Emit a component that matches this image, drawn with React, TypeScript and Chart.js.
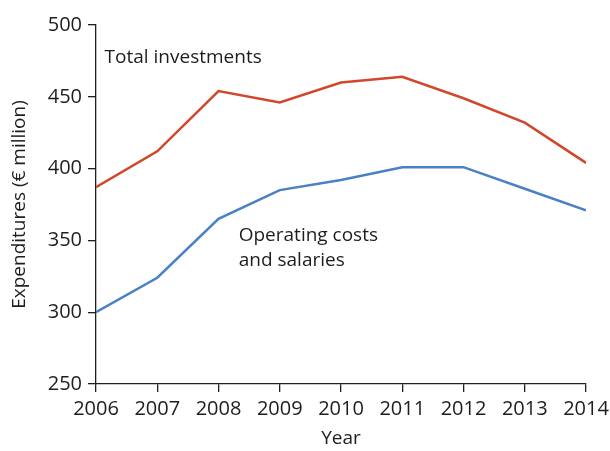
import React, { useEffect, useRef } from "react";
import { Chart, registerables } from "chart.js";
Chart.register(...registerables);

const years = [2006, 2007, 2008, 2009, 2010, 2011, 2012, 2013, 2014];
const totalInvestments = [387, 412, 454, 446, 460, 464, 449, 432, 404];
const operatingCosts = [300, 324, 365, 385, 392, 401, 401, 386, 371];
const yTicks = [250, 300, 350, 400, 450, 500];

const FONT = "'Open Sans', 'Noto Sans', sans-serif";
const TXT = "#1f1c1d";

const labelsPlugin = {
  id: "labels",
  afterDatasetsDraw(chart: any) {
    const { ctx, scales } = chart;
    const x = scales.x, y = scales.y;
    ctx.save();
    ctx.fillStyle = TXT;
    ctx.font = `19px ${FONT}`;
    ctx.textAlign = "left";
    ctx.textBaseline = "middle";
    ctx.fillText("Total investments", x.getPixelForValue(2006.14), y.getPixelForValue(477));
    ctx.fillText("Operating costs", x.getPixelForValue(2008.33), y.getPixelForValue(353.5));
    ctx.fillText("and salaries", x.getPixelForValue(2008.33), y.getPixelForValue(336));
    ctx.restore();
  },
};

export default function App() {
  const ref = useRef<HTMLCanvasElement>(null);
  useEffect(() => {
    document.body.style.margin = "0";
    const chart = new Chart(ref.current!, {
      type: "line",
      data: {
        datasets: [
          {
            data: years.map((yr, i) => ({ x: yr, y: totalInvestments[i] })),
            borderColor: "#d2472a",
            borderWidth: 2.5,
            pointRadius: 0,
            tension: 0,
          },
          {
            data: years.map((yr, i) => ({ x: yr, y: operatingCosts[i] })),
            borderColor: "#4a80c4",
            borderWidth: 2.5,
            pointRadius: 0,
            tension: 0,
          },
        ],
      },
      options: {
        animation: false,
        responsive: false,
        layout: { padding: { top: 25, right: 24, left: 0, bottom: 0 } },
        plugins: { legend: { display: false }, tooltip: { enabled: false } },
        scales: {
          x: {
            type: "linear",
            min: 2006,
            max: 2014,
            afterFit: (s: any) => { s.height = 67; s.paddingRight = 0; s.paddingLeft = 0; },
            afterBuildTicks: (s: any) => { s.ticks = years.map((v) => ({ value: v })); },
            grid: { drawOnChartArea: false, drawTicks: true, tickLength: 8, color: "#231f20", lineWidth: 1.3 },
            border: { color: "#231f20", width: 1.3 },
            ticks: { color: TXT, font: { family: FONT, size: 20 }, padding: 5, callback: (v: any) => String(v), maxRotation: 0 },
            title: { display: true, text: "Year", color: TXT, font: { family: FONT, size: 19 }, padding: { top: 4, bottom: 1 } },
          },
          y: {
            min: 250,
            max: 500,
            afterFit: (s: any) => { s.width = 96; s.paddingTop = 0; s.paddingBottom = 0; },
            afterBuildTicks: (s: any) => { s.ticks = yTicks.map((v) => ({ value: v })); },
            grid: { drawOnChartArea: false, drawTicks: true, tickLength: 8, color: "#231f20", lineWidth: 1.3 },
            border: { color: "#231f20", width: 1.3 },
            ticks: { color: TXT, font: { family: FONT, size: 20 }, padding: 6 },
            title: { display: true, text: "Expenditures (€ million)", color: TXT, font: { family: FONT, size: 19 }, padding: { top: 8, bottom: 4 } },
          },
        },
      },
      plugins: [labelsPlugin],
    } as any);
    return () => chart.destroy();
  }, []);
  return (
    <div style={{ width: 610, height: 451 }}>
      <canvas ref={ref} width={610} height={451} style={{ display: "block" }} />
    </div>
  );
}
